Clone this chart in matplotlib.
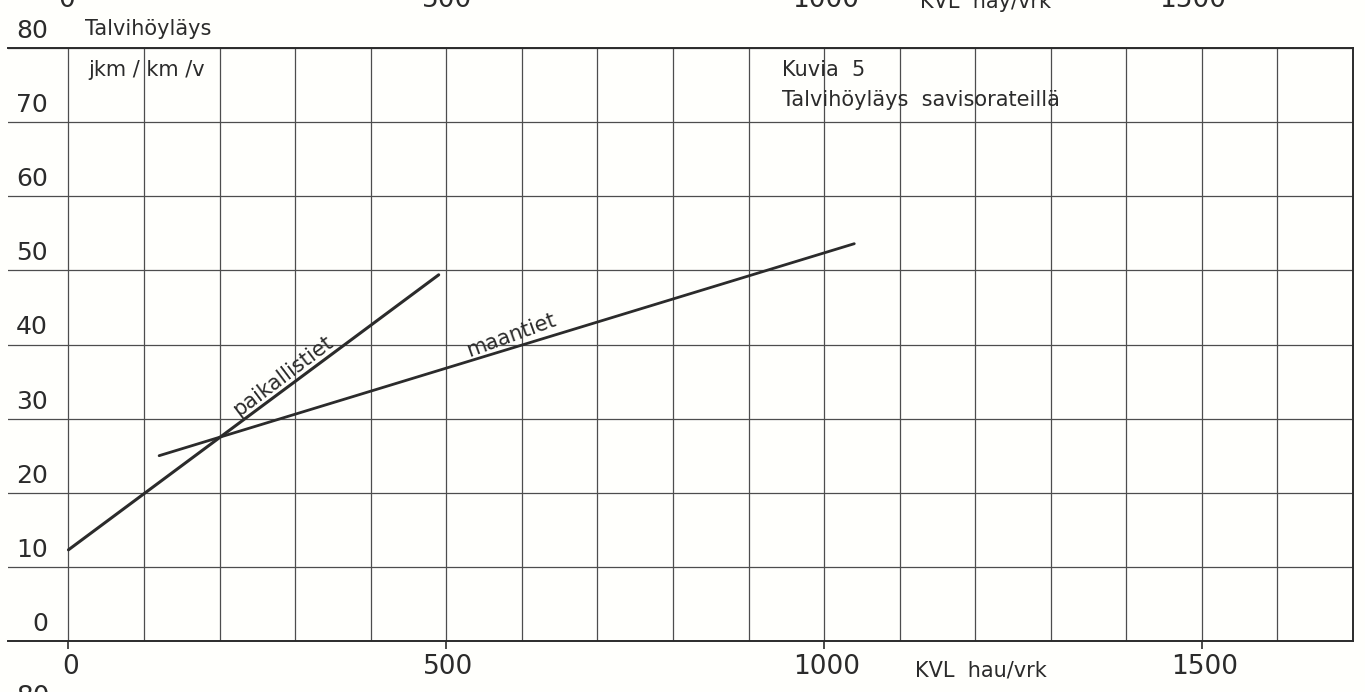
import matplotlib.pyplot as plt

# Talvihöyläys savisorateillä, jkm/km/v liikennemäärän (KVL) mukaan
paikallistiet_kvl = [0, 490]
paikallistiet_jkm = [12.3, 49.4]
maantiet_kvl = [120, 1040]
maantiet_jkm = [25.0, 53.6]

x_ticks = [0, 500, 1000, 1500]
x_tick_labels = ['0', '500', '1000', '1500']
y_ticks = [0, 10, 20, 30, 40, 50, 60, 70, 80]
y_tick_labels = ['0', '10', '20', '30', '40', '50', '60', '70', '80']

FONT = ['Liberation Sans Narrow', 'DejaVu Sans']
INK = '#2b2b2b'
GRID = '#4d4d4d'

plt.rcParams['font.family'] = FONT

W, H = 1365, 692
fig = plt.figure(figsize=(W / 100, H / 100), dpi=100, facecolor='#fffffc')
ax = fig.add_axes([8 / W, 51 / H, 1345 / W, 593 / H])
ax.set_facecolor('none')
ax.set_xlim(-80, 1700)
ax.set_ylim(0, 80)

# ruudukko 100 x 10, vasen reuna jätetään auki
ax.set_xticks(x_ticks)
ax.set_xticks(range(0, 1700, 100), minor=True)
ax.set_yticks(y_ticks)
ax.tick_params(axis='x', which='major', length=6, width=1.2, color=INK, labelbottom=False)
ax.tick_params(axis='x', which='minor', length=0)
ax.tick_params(axis='y', length=0, labelleft=False)
ax.grid(True, which='both', color=GRID, lw=0.9)
ax.spines['left'].set_visible(False)
for side in ['top', 'bottom', 'right']:
    ax.spines[side].set_color(INK)
    ax.spines[side].set_linewidth(1.4)

# akseliluvut
for v, s in zip(x_ticks, x_tick_labels):
    ax.text(v + 3, -3.5, s, ha='center', va='center', fontsize=19, color=INK, clip_on=False)
for v, s in zip(y_ticks, y_tick_labels):
    ax.text(-27, v + 2.3, s, ha='right', va='center', fontsize=18, color=INK, clip_on=False)
ax.text(1208, -4.0, 'KVL  hau/vrk', ha='center', va='center', fontsize=15, color=INK, clip_on=False)

ax.text(22, 82.6, 'Talvihöyläys', ha='left', va='center', fontsize=15, color=INK, clip_on=False)
ax.text(26, 77.0, 'jkm / km /v', ha='left', va='center', fontsize=15, color=INK)
ax.text(944, 77.0, 'Kuvia  5', ha='left', va='center', fontsize=15, color=INK)
ax.text(944, 73.0, 'Talvihöyläys  savisorateillä', ha='left', va='center', fontsize=15, color=INK)

# käyrät
ax.plot(paikallistiet_kvl, paikallistiet_jkm, color=INK, lw=2.2, solid_capstyle='round')
ax.plot(maantiet_kvl, maantiet_jkm, color=INK, lw=2.0, solid_capstyle='round')

ax.text(292, 12.3 + 0.0757 * 292 + 0.3, 'paikallistiet', rotation=37, rotation_mode='anchor',
        ha='center', va='bottom', fontsize=15, color=INK)
ax.text(590, 25.0 + 0.0311 * 470 + 0.4, 'maantiet', rotation=20, rotation_mode='anchor',
        ha='center', va='bottom', fontsize=15, color=INK)

# viereisten kuvien reunoille jääneet luvut
for px, s in [(67, '0'), (447, '500'), (826, '1000'), (1193, '1500')]:
    fig.text(px / W, 1.0, s, ha='center', va='center', fontsize=19, color=INK)
fig.text(985 / W, 1 - 2 / H, 'KVL  hay/vrk', ha='center', va='center', fontsize=15, color=INK)
fig.text(33 / W, -6 / H, '80', ha='center', va='center', fontsize=19, color=INK)

fig.savefig('out.png', dpi=100, facecolor=fig.get_facecolor())
